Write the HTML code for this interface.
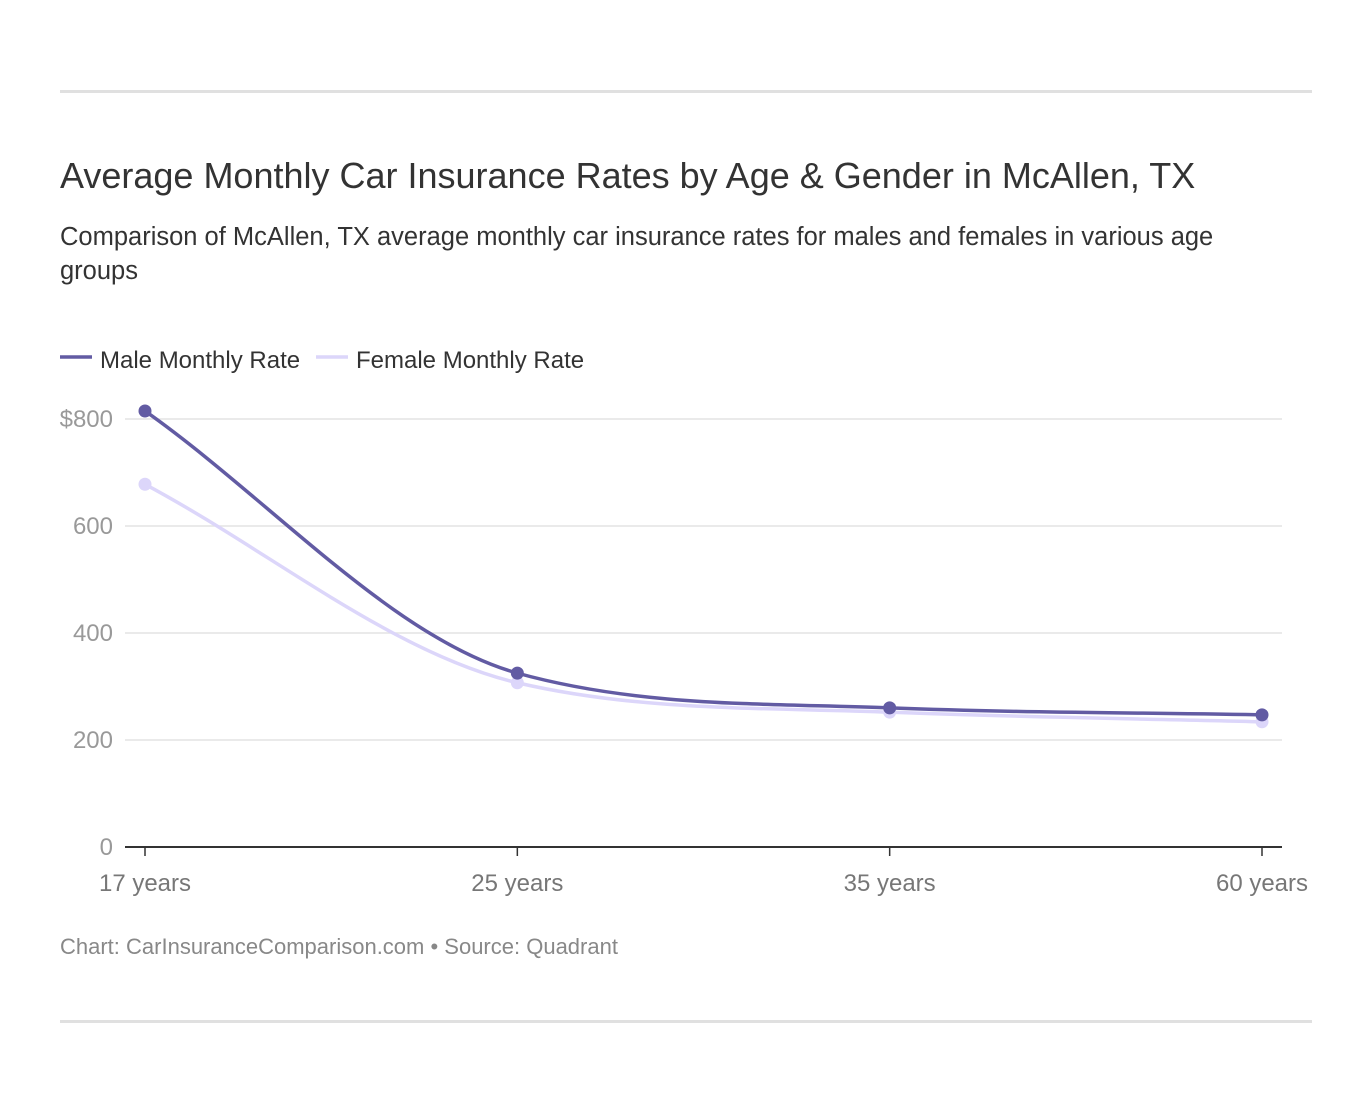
<!DOCTYPE html>
<html><head><meta charset="utf-8"><style>
body{margin:0;background:#fff;font-family:"Liberation Sans",Arial,sans-serif;}
.wrap{position:relative;width:1372px;height:1104px;}
.rule{position:absolute;left:60px;width:1252px;height:3px;background:#e0e0e0;}
h1{position:absolute;left:60px;top:155px;margin:0;font-size:36px;font-weight:normal;color:#333;}
.sub{position:absolute;left:60px;top:220px;width:1200px;font-size:25.5px;line-height:34px;color:#333;}
.src{position:absolute;left:60px;top:934px;font-size:22px;color:#888;}
svg{position:absolute;left:0;top:0;}
</style></head><body>
<div class="wrap">
<div class="rule" style="top:90px"></div>
<h1>Average Monthly Car Insurance Rates by Age &amp; Gender in McAllen, TX</h1>
<div class="sub">Comparison of McAllen, TX average monthly car insurance rates for males and females in various age groups</div>
<svg id="chart" width="1372" height="1104"></svg>
<div class="src">Chart: CarInsuranceComparison.com • Source: Quadrant</div>
<div class="rule" style="top:1020px"></div>
</div>
<script>
const categories=["17 years","25 years","35 years","60 years"];
const maleValues=[815,325,260,247];
const femaleValues=[678,307,252,234];
const yTicks=[0,200,400,600,800];
const yTickLabels=["0","200","400","600","$800"];
const seriesNames=["Male Monthly Rate","Female Monthly Rate"];

const NS="http://www.w3.org/2000/svg";
const svg=document.getElementById('chart');
const X0=145,X1=1262,Y0=847,PX=107/200;
const x=i=>X0+i*(X1-X0)/(categories.length-1);
const y=v=>Y0-v*PX;
function el(t,a,p){const e=document.createElementNS(NS,t);for(const k in a)e.setAttribute(k,a[k]);(p||svg).appendChild(e);return e;}
yTicks.forEach((t,i)=>{
  if(t>0){const g=el('line',{x1:125,x2:1282,y1:y(t),y2:y(t),stroke:'#e3e3e3','stroke-width':1.5});
  
  }
  const l=el('text',{x:113,y:y(t)+8,'text-anchor':'end','font-size':24,fill:'#999'});l.textContent=yTickLabels[i];
  
  
});
const ax=el('line',{x1:125,x2:1282,y1:Y0,y2:Y0,stroke:'#333','stroke-width':2});


categories.forEach((c,i)=>{
  const tk=el('line',{x1:x(i),x2:x(i),y1:Y0,y2:Y0+9,stroke:'#333','stroke-width':1.5});
  
  
  const t=el('text',{x:x(i),y:Y0+44,'text-anchor':'middle','font-size':24,fill:'#777'});t.textContent=c;
  
  
});
function monotone(px,py){
  const n=px.length,d=[],m=[];
  for(let i=0;i<n-1;i++)d.push((py[i+1]-py[i])/(px[i+1]-px[i]));
  for(let i=0;i<n;i++){
    if(i==0)m.push(d[0]);else if(i==n-1)m.push(d[n-2]);
    else m.push(d[i-1]*d[i]<=0?0:(d[i-1]+d[i])/2);
  }
  for(let i=0;i<n-1;i++){if(d[i]==0){m[i]=m[i+1]=0;continue;}const a=m[i]/d[i],b=m[i+1]/d[i],s=a*a+b*b;if(s>9){const t=3/Math.sqrt(s);m[i]=t*a*d[i];m[i+1]=t*b*d[i];}}
  let p='M'+px[0]+','+py[0];
  for(let i=0;i<n-1;i++){const h=(px[i+1]-px[i])/3;p+=' C'+(px[i]+h)+','+(py[i]+m[i]*h)+' '+(px[i+1]-h)+','+(py[i+1]-m[i+1]*h)+' '+px[i+1]+','+py[i+1];}
  return p;
}
function series(vals,color,name){
  const px=vals.map((v,i)=>x(i)),py=vals.map(y);
  const p=el('path',{d:monotone(px,py),fill:'none',stroke:color,'stroke-width':3.5});
  
  
  vals.forEach((v,i)=>{const c=el('circle',{cx:x(i),cy:y(v),r:6.5,fill:color});
    
    });
}
series(femaleValues,'#dcd6fa','female');
series(maleValues,'#625ba3','male');
const legColors=['#625ba3','#dcd6fa'],legX=[60,316];
seriesNames.forEach((s,i)=>{
  const l=el('line',{x1:legX[i],x2:legX[i]+32,y1:357,y2:357,stroke:legColors[i],'stroke-width':3.5});
  
  
  const t=el('text',{x:legX[i]+40,y:368,'font-size':24,fill:'#333'});t.textContent=s;
  
  
});
</script>
</body></html>
